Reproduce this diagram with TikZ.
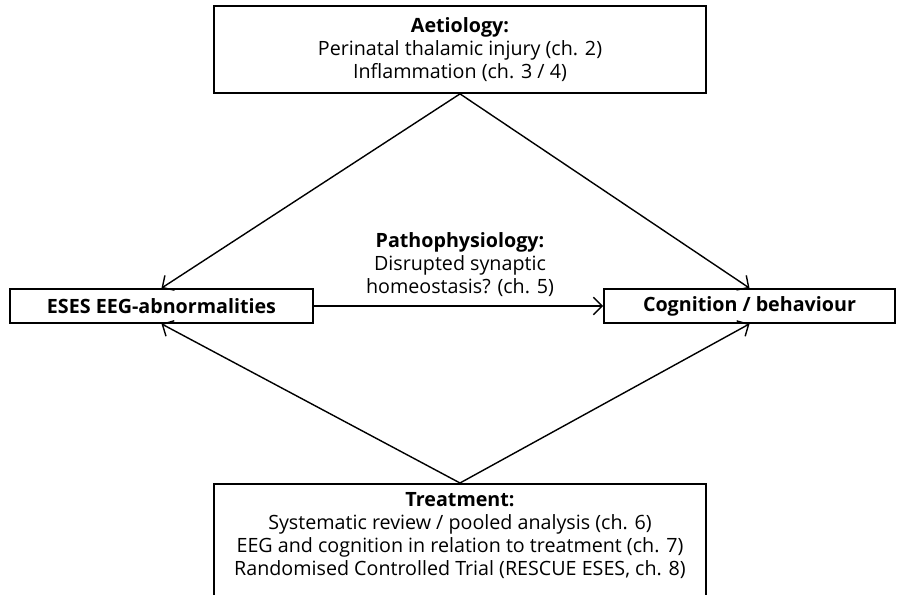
\documentclass[tikz,border=0pt]{standalone}
\usepackage{fontspec}
\setmainfont{Open Sans}
\usepackage{tikz}
\usetikzlibrary{arrows.meta,shapes}
\tikzstyle{box}=[draw,line width=1pt,align=center,font=\fontsize{11.2}{13.1}\selectfont]
\tikzstyle{edge} = [draw,line width=0.8pt,-{Straight Barb[length=5pt,width=10pt]}]

\begin{document}
\begin{tikzpicture}
        \useasboundingbox (0,0) rectangle (18,11.88);
        \node[box,minimum width=9.84cm,minimum height=1.74cm] (aet) at (9.2,10.89)
          {\textbf{Aetiology:}\\Perinatal thalamic injury (ch. 2)\\Inflammation (ch. 3 / 4)};
        \node[box,minimum width=6.06cm,minimum height=0.68cm] (eses) at (3.23,5.76)
          {\textbf{ESES EEG-abnormalities}};
        \node[box,minimum width=5.82cm,minimum height=0.68cm] (cog) at (14.99,5.76)
          {\textbf{Cognition / behaviour}};
        \node[box,draw=none] (path) at (9.2,6.58)
          {\textbf{Pathophysiology:}\\Disrupted synaptic\\homeostasis? (ch. 5)};
        \node[box,anchor=north,minimum width=9.84cm,inner ysep=5pt] (treat) at (9.2,2.22)
          {\textbf{Treatment:}\\Systematic review / pooled analysis (ch. 6)\\EEG and cognition in relation to treatment (ch. 7)\\Randomised Controlled Trial (RESCUE ESES, ch. 8)\rule[-14pt]{0pt}{14pt}};
        \draw[edge] (aet.south) to (eses.north);
        \draw[edge] (aet.south) to (cog.north);
        \draw[edge] (treat.north) to (eses.south);
        \draw[edge] (treat.north) to (cog.south);
        \draw[edge] (eses) to (cog);
      \end{tikzpicture}
\end{document}
